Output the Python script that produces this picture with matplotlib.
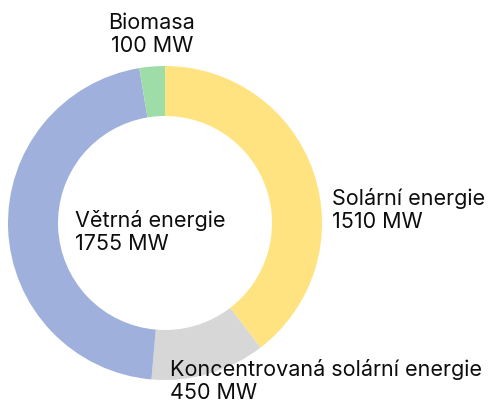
import matplotlib
matplotlib.use('Agg')
import matplotlib.pyplot as plt

labels = ['Solární energie', 'Koncentrovaná solární energie', 'Větrná energie', 'Biomasa']
values = [1510, 450, 1755, 100]
colors = ['#FFE380', '#D7D7D7', '#9EB0DB', '#9EDCA8']

plt.rcParams['font.family'] = ['Inter', 'DejaVu Sans']

W, H = 503, 403
fig = plt.figure(figsize=(W / 100, H / 100), dpi=100)
ax = fig.add_axes([0, 0, 1, 1])

cx, cy = 165, H - 223
ax.pie(values, colors=colors, startangle=90, counterclock=False,
       radius=157, center=(cx, cy), frame=True,
       wedgeprops=dict(width=50, linewidth=0))
ax.set_xlim(0, W)
ax.set_ylim(0, H)
ax.set_aspect('equal')
ax.axis('off')

# label placement: x, baseline of first line (px from top), alignment
label_pos = [(332, 205, 'left'), (170, 376, 'left'), (75, 227, 'left'), (152, 29, 'center')]
for lab, v, (x, y, ha) in zip(labels, values, label_pos):
    ax.text(x, H - y, lab, ha=ha, va='baseline', fontsize=15.5, color='#0d0d0d')
    ax.text(x, H - y - 23, f'{v} MW', ha=ha, va='baseline', fontsize=15.5, color='#0d0d0d')

fig.savefig('out.png', dpi=100)
